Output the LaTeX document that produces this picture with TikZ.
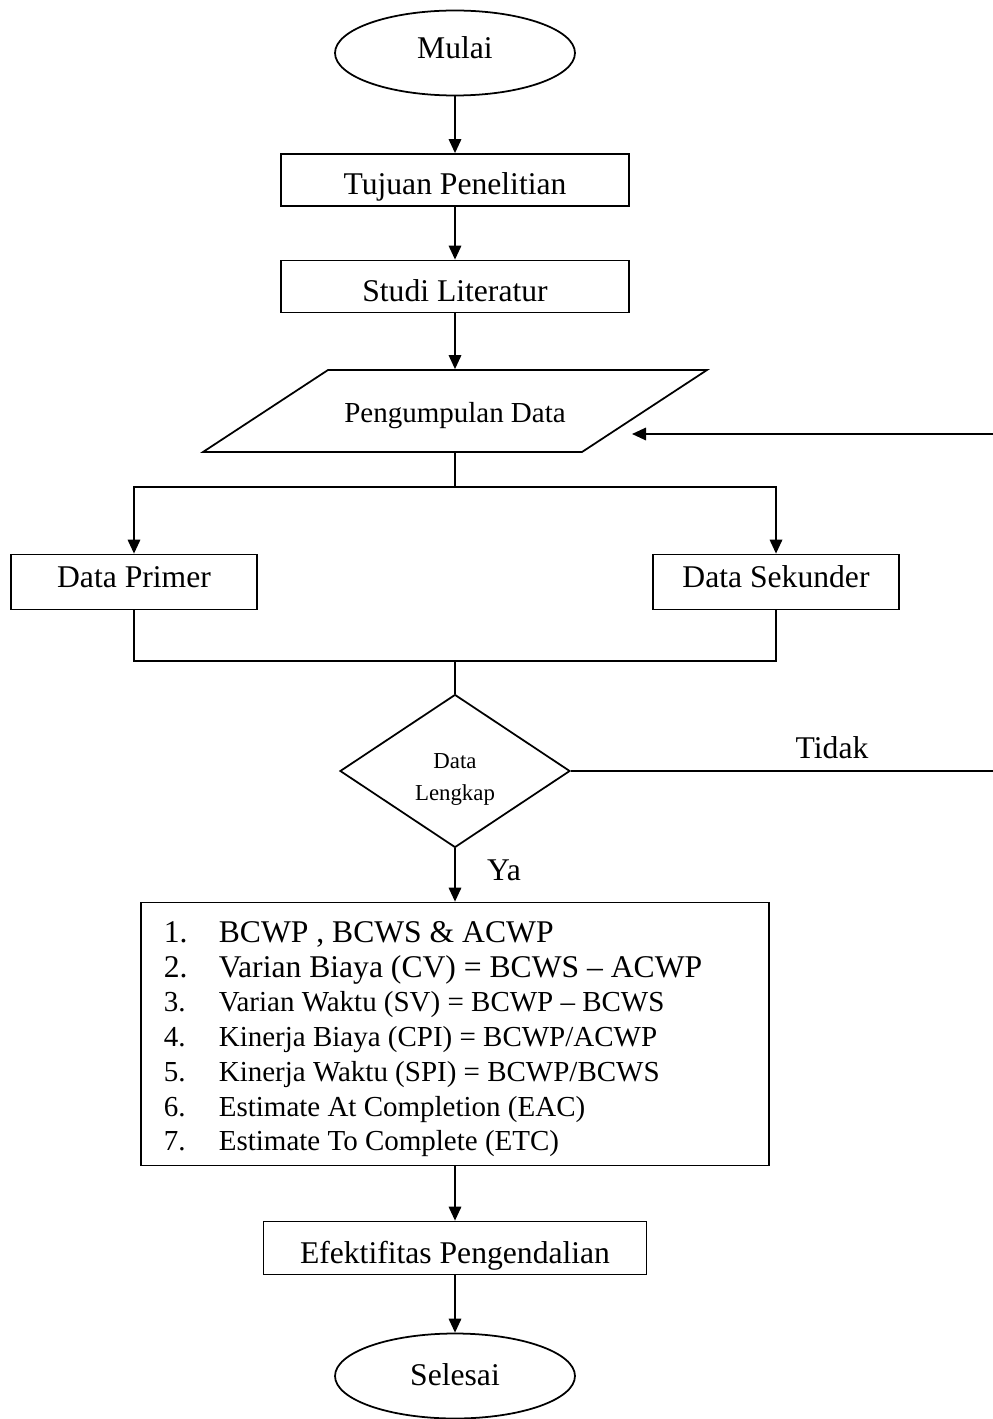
\documentclass[tikz,border=0pt]{standalone}
\usepackage{fontspec}
\setmainfont{Liberation Serif}
\usetikzlibrary{shapes.geometric, arrows.meta, positioning}

\begin{document}
\begin{tikzpicture}[x=0.02cm, y=-0.02cm, line width=1pt,
  every node/.style={font=\fontsize{18}{21}\selectfont, inner ysep=2pt, text depth=0pt},
  terminal/.style={draw, ellipse, minimum width=4.8cm, minimum height=1.7cm},
  proses/.style={draw, rectangle, minimum width=6.96cm, minimum height=1.04cm},
  datakotak/.style={draw, rectangle, minimum width=4.93cm, minimum height=1.1cm},
  panah/.style={-{Triangle[length=0.28cm, width=0.25cm]}}]
  \useasboundingbox (0,0) rectangle (992,1419);

  \node[terminal, text height=6.4pt] (mulai) at (455,53) {Mulai};
  \node[proses, text height=16.6pt] (tujuan) at (455,180) {Tujuan Penelitian};
  \node[proses, text height=17.1pt] (studi) at (455,286.5) {Studi Literatur};
  \node[minimum width=7.6cm, minimum height=1.64cm, text height=13.1pt,
        font=\fontsize{16.5}{20}\selectfont] (kumpul) at (455,411) {Pengumpulan Data};
  \draw (203,452) -- (328,370) -- (707,370) -- (582,452) -- cycle;

  \node[datakotak, text height=6.4pt] (primer) at (134,582) {Data Primer};
  \node[datakotak, text height=6.4pt] (sekunder) at (776,582) {Data Sekunder};

  \node[draw, diamond, minimum width=4.6cm, minimum height=3.06cm, inner sep=0pt] (lengkap) at (455,771) {};
  \node[align=center, font=\fontsize{13}{18.7}\selectfont] (lengkapteks) at ([yshift=-0.12cm]lengkap.center) {Data\\Lengkap};
  \node (tidak) at (832,748) {Tidak};
  \node (ya) at (504,870) {Ya};

  \node[draw, minimum width=12.56cm, minimum height=5.26cm] (hitung) at (455,1034) {};
  \foreach \teks/\uk [count=\i] in {{BCWP , BCWS \& ACWP}/18,
      {Varian Biaya (CV) = BCWS -- ACWP}/18,
      {Varian Waktu (SV) = BCWP -- BCWS}/16.5,
      {Kinerja Biaya (CPI) = BCWP/ACWP}/16.5,
      {Kinerja Waktu (SPI) = BCWP/BCWS}/16.5,
      {Estimate At Completion (EAC)}/16.5,
      {Estimate To Complete (ETC)}/16.5}
    \node[anchor=base west, inner sep=0pt, font=\fontsize{\uk}{20}\selectfont]
      (butir\i) at (163,{942.5+34.7*(\i-1)}) {\makebox[1.1cm][l]{\i.}\teks};

  \node[draw, rectangle, minimum width=7.66cm, minimum height=1.06cm, text height=17.6pt] (efektif) at (455,1248) {Efektifitas Pengendalian};
  \node[terminal, text height=10.9pt] (selesai) at (455,1376) {Selesai};

  % alur utama
  \draw[panah] (mulai) -- (tujuan);
  \draw[panah] (tujuan) -- (studi);
  \draw[panah] (studi) -- (kumpul);

  % cabang data
  \coordinate (cabang) at (455,487);
  \coordinate (gabung) at (455,661);
  \draw (kumpul.south) -- (cabang);
  \draw[panah] (cabang) -| (primer);
  \draw[panah] (cabang) -| (sekunder);
  \draw (primer) |- (gabung) -| (sekunder);
  \draw (gabung) -- (lengkap);

  % kembali bila data tidak lengkap
  \coordinate (kanan) at (1000,771);
  \coordinate (kananatas) at (1000,434);
  \coordinate (masuk) at (632,434);
  \draw[panah] (lengkap.east) -- (kanan) -- (kananatas) -- (masuk);

  \draw[panah] (lengkap) -- (hitung);
  \draw[panah] (hitung) -- (efektif);
  \draw[panah] (efektif) -- (selesai);
\end{tikzpicture}
\end{document}
